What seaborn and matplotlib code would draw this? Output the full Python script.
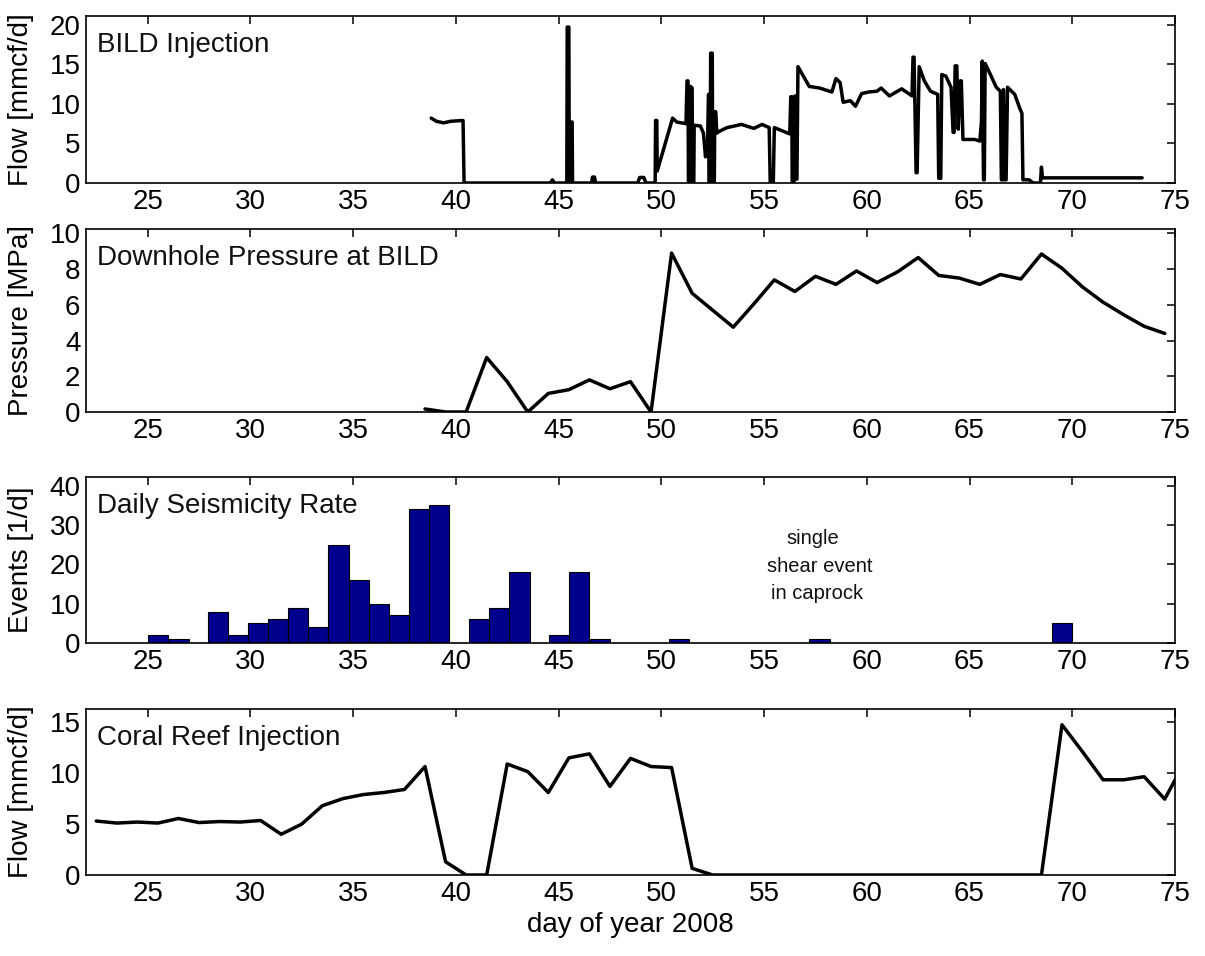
import matplotlib
matplotlib.use("Agg")
import matplotlib.pyplot as plt
import seaborn as sns
import numpy as np

# ---------------- data ----------------
bild_day = [38.8, 39.05, 39.4, 39.75, 40.35, 40.4, 44.6, 44.7, 44.8, 45.4,
            45.42, 45.5, 45.52, 45.56, 45.58, 45.66, 45.68, 46.6, 46.65, 46.75,
            46.8, 48.85, 48.95, 49.15, 49.25, 49.7, 49.72, 49.78, 49.8, 50.55,
            50.75, 51.2, 51.25, 51.3, 51.32, 51.4, 51.42, 51.5, 51.52, 51.58,
            51.6, 51.9, 52.05, 52.15, 52.25, 52.3, 52.32, 52.38, 52.4, 52.48,
            52.5, 52.58, 52.6, 52.65, 52.7, 52.8, 53.2, 53.55, 53.9, 54.5,
            54.9, 55.25, 55.3, 55.45, 55.5, 56.25, 56.3, 56.35, 56.37, 56.45,
            56.5, 56.55, 56.6, 56.65, 56.85, 57.2, 57.7, 58.3, 58.5, 58.7,
            58.85, 59.2, 59.45, 59.75, 60.1, 60.5, 60.7, 61.1, 61.7, 62.2,
            62.25, 62.3, 62.4, 62.45, 62.55, 62.8, 63.1, 63.45, 63.5, 63.6,
            63.65, 63.85, 64.1, 64.2, 64.25, 64.3, 64.38, 64.45, 64.55, 64.6,
            64.68, 65.25, 65.5, 65.58, 65.62, 65.68, 65.72, 65.76, 66.0, 66.3,
            66.5, 66.55, 66.62, 66.65, 66.72, 66.78, 66.85, 67.2, 67.45, 67.55,
            67.6, 67.9, 68.1, 68.45, 68.5, 68.55, 73.4]
bild_flow = [8.2, 7.8, 7.6, 7.8, 7.9, 0.0, 0.0, 0.4, 0.0, 0.0,
             19.7, 19.7, 0.0, 0.0, 7.7, 7.7, 0.0, 0.0, 0.75, 0.75,
             0.0, 0.0, 0.7, 0.7, 0.0, 0.0, 7.9, 7.9, 1.5, 8.2,
             7.7, 7.5, 12.9, 12.9, 0.0, 0.0, 12.2, 12.0, 0.0, 0.0,
             7.3, 7.2, 6.3, 3.3, 5.0, 11.2, 0.0, 0.0, 16.4, 16.4,
             0.0, 0.0, 9.0, 9.0, 6.3, 6.5, 7.0, 7.2, 7.4, 6.9,
             7.4, 7.0, 0.0, 0.0, 7.0, 6.2, 10.9, 10.9, 0.0, 0.0,
             11.0, 0.5, 0.5, 14.7, 13.8, 12.2, 12.0, 11.5, 13.2, 12.7,
             10.2, 10.4, 9.7, 11.3, 11.5, 11.6, 12.0, 11.0, 11.9, 11.0,
             15.9, 15.9, 1.3, 1.3, 14.7, 12.9, 11.6, 11.2, 0.6, 0.6,
             13.7, 13.5, 12.1, 6.4, 6.4, 14.8, 14.8, 6.8, 12.9, 12.9,
             5.5, 5.5, 5.3, 7.7, 15.4, 0.4, 0.4, 15.1, 13.8, 12.1,
             11.6, 0.4, 0.4, 11.8, 0.4, 0.4, 12.1, 11.2, 9.4, 8.8,
             0.4, 0.4, 0.0, 0.0, 2.0, 0.65, 0.65]

pres_day = [38.5, 39.5, 40.5, 41.5, 42.5, 43.5, 44.5, 45.5, 46.5, 47.5,
            48.5, 49.5, 50.5, 51.5, 52.5, 53.5, 54.5, 55.5, 56.5, 57.5,
            58.5, 59.5, 60.5, 61.5, 62.5, 63.5, 64.5, 65.5, 66.5, 67.5,
            68.5, 69.5, 70.5, 71.5, 72.5, 73.5, 74.5]
pres_mpa = [0.17, 0.0, 0.0, 3.05, 1.7, 0.0, 1.04, 1.25, 1.8, 1.3,
            1.7, 0.0, 8.9, 6.65, 5.7, 4.75, 6.05, 7.4, 6.75, 7.6,
            7.15, 7.9, 7.25, 7.85, 8.65, 7.65, 7.5, 7.15, 7.7, 7.45,
            8.85, 8.05, 7.0, 6.15, 5.45, 4.8, 4.4]

seis_day = [25.5, 26.5, 28.44, 29.42, 30.39, 31.36, 32.33, 33.31, 34.29, 35.27,
            36.25, 37.22, 38.19, 39.17, 41.12, 42.1, 43.1, 45.02, 46.0, 47.0,
            50.88, 57.7, 69.5]
seis_rate = [2, 1, 8, 2, 5, 6, 9, 4, 25, 16,
             10, 7, 34, 35, 6, 9, 18, 2, 18, 1,
             1, 1, 5]

coral_day = [22.5, 23.5, 24.5, 25.5, 26.5, 27.5, 28.5, 29.5, 30.5, 31.5,
             32.5, 33.5, 34.5, 35.5, 36.5, 37.5, 38.5, 39.5, 40.5, 41.5,
             42.5, 43.5, 44.5, 45.5, 46.5, 47.5, 48.5, 49.5, 50.5, 51.5,
             52.5, 53.5, 54.5, 55.5, 56.5, 57.5, 58.5, 59.5, 60.5, 61.5,
             62.5, 63.5, 64.5, 65.5, 66.5, 67.5, 68.5, 69.5, 70.5, 71.5,
             72.5, 73.5, 74.5, 75.5]
coral_flow = [5.3, 5.1, 5.2, 5.1, 5.55, 5.15, 5.25, 5.2, 5.35, 4.0,
              5.0, 6.8, 7.5, 7.9, 8.1, 8.4, 10.65, 1.3, 0.0, 0.0,
              10.9, 10.15, 8.1, 11.5, 11.9, 8.7, 11.45, 10.65, 10.55, 0.65,
              0.0, 0.0, 0.0, 0.0, 0.0, 0.0, 0.0, 0.0, 0.0, 0.0,
              0.0, 0.0, 0.0, 0.0, 0.0, 0.0, 0.0, 14.75, 12.1, 9.35,
              9.35, 9.65, 7.45, 11.2]

x_ticks = [25, 30, 35, 40, 45, 50, 55, 60, 65, 70, 75]
panel_titles = ["BILD Injection", "Downhole Pressure at BILD",
                "Daily Seismicity Rate", "Coral Reef Injection"]
y_labels = ["Flow [mmcf/d]", "Pressure [MPa]", "Events [1/d]", "Flow [mmcf/d]"]
y_ticks = [[0, 5, 10, 15, 20], [0, 2, 4, 6, 8, 10], [0, 10, 20, 30, 40], [0, 5, 10, 15]]
y_lims = [(0, 21.1), (0, 10.25), (0, 42.2), (0, 16.3)]
note_lines = ["single", "shear event", "in caprock"]
note_x = [57.35, 57.72, 57.57]
note_y = [26.6, 19.5, 12.7]
x_label = "day of year 2008"

# ---------------- style ----------------
sns.set_theme(style="white")
plt.rcParams["font.family"] = ["Liberation Sans", "DejaVu Sans"]
plt.rcParams["axes.edgecolor"] = "black"
plt.rcParams["axes.linewidth"] = 1.2

W, H = 1205, 956
fig = plt.figure(figsize=(W / 100, H / 100), dpi=100)
panels_px = [(16, 183), (229, 412), (477, 643), (709, 875)]
axes = []
for top, bottom in panels_px:
    ax = fig.add_axes([86 / W, 1 - bottom / H, (1175 - 86) / W, (bottom - top) / H])
    axes.append(ax)

line_kw = dict(color="black", linewidth=2.5, estimator=None, sort=False, legend=False)

sns.lineplot(x=bild_day, y=bild_flow, ax=axes[0], **line_kw)
sns.lineplot(x=pres_day, y=pres_mpa, ax=axes[1], **line_kw)
axes[2].bar(seis_day, seis_rate, width=0.98, color="#00008C", edgecolor="black", linewidth=0.8)
sns.lineplot(x=coral_day, y=coral_flow, ax=axes[3], **line_kw)

for i, ax in enumerate(axes):
    ax.set_xlim(22, 75)
    ax.set_ylim(*y_lims[i])
    ax.set_xticks(x_ticks)
    ax.set_yticks(y_ticks[i])
    ax.tick_params(direction="in", top=True, right=True, length=6, width=1.1,
                   labelsize=20, colors="black")
    ax.tick_params(axis="x", pad=4)
    ax.tick_params(axis="y", pad=4)
    ax.set_ylabel(y_labels[i], fontsize=20, color="black")
    ax.yaxis.set_label_coords(-0.048, 0.5)
    ax.set_xlabel("")
    for s in ax.spines.values():
        s.set_visible(True)
        s.set_color("black")
    height_px = panels_px[i][1] - panels_px[i][0]
    ax.text(0.0101, 1 - 29 / height_px, panel_titles[i], transform=ax.transAxes,
            ha="left", va="center", fontsize=20, color="#111111")

for t, xx, yy in zip(note_lines, note_x, note_y):
    axes[2].text(xx, yy, t, ha="center", va="center", fontsize=14.5, color="#111111")

axes[3].set_xlabel(x_label, fontsize=20, color="black", labelpad=4)

fig.savefig("out.png", dpi=100)
